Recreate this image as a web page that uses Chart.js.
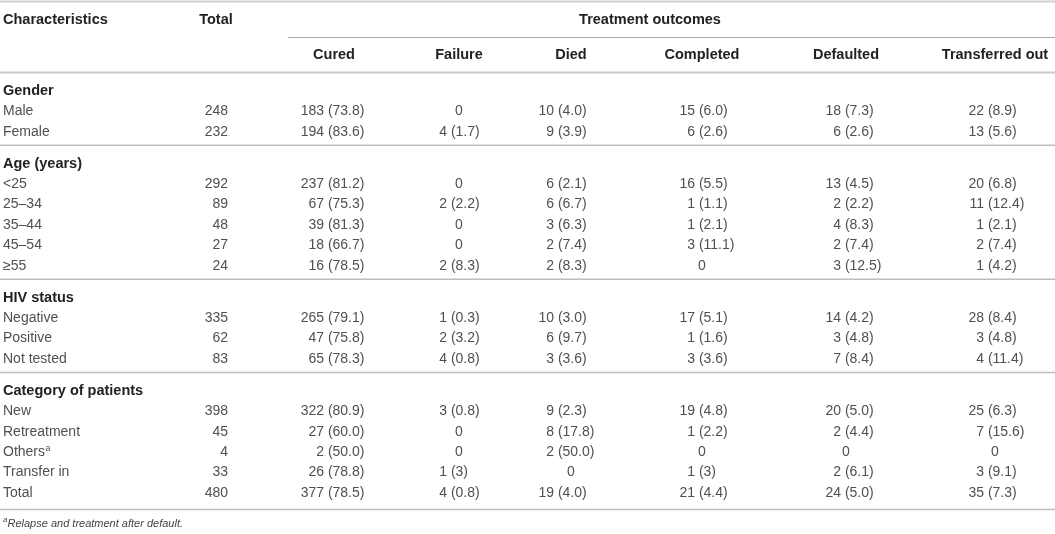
<!DOCTYPE html>
<html>
<head>
<meta charset="utf-8">
<title>Treatment outcomes</title>
<script src="https://cdn.jsdelivr.net/npm/chart.js@4.4.1/dist/chart.umd.min.js"></script>
<style>
    html, body { margin: 0; padding: 0; background: #fff; }
    #wrap { width: 1055px; height: 534px; position: relative; }
</style>
</head>
<body>
<div id="wrap"><canvas id="tabela"></canvas></div>
<script>
// --- dados da tabela ---
const groupNames = ['Gender', 'Age (years)', 'HIV status', 'Category of patients'];
const rowLabels = ['Male', 'Female', '<25', '25–34', '35–44', '45–54', '≥55',
    'Negative', 'Positive', 'Not tested', 'New', 'Retreatment', 'Others', 'Transfer in', 'Total'];
const rowGroup = [0, 0, 1, 1, 1, 1, 1, 2, 2, 2, 3, 3, 3, 3, 3];
const rowNote = [null, null, null, null, null, null, null, null, null, null, null, null, 'a', null, null];

const outcomeNames = ['Cured', 'Failure', 'Died', 'Completed', 'Defaulted', 'Transferred out'];

const totalCounts = [248, 232, 292, 89, 48, 27, 24, 335, 62, 83, 398, 45, 4, 33, 480];
const curedCounts = [183, 194, 237, 67, 39, 18, 16, 265, 47, 65, 322, 27, 2, 26, 377];
const curedPct = ['73.8', '83.6', '81.2', '75.3', '81.3', '66.7', '78.5', '79.1', '75.8', '78.3', '80.9', '60.0', '50.0', '78.8', '78.5'];
const failureCounts = [0, 4, 0, 2, 0, 0, 2, 1, 2, 4, 3, 0, 0, 1, 4];
const failurePct = [null, '1.7', null, '2.2', null, null, '8.3', '0.3', '3.2', '0.8', '0.8', null, null, '3', '0.8'];
const diedCounts = [10, 9, 6, 6, 3, 2, 2, 10, 6, 3, 9, 8, 2, 0, 19];
const diedPct = ['4.0', '3.9', '2.1', '6.7', '6.3', '7.4', '8.3', '3.0', '9.7', '3.6', '2.3', '17.8', '50.0', null, '4.0'];
const completedCounts = [15, 6, 16, 1, 1, 3, 0, 17, 1, 3, 19, 1, 0, 1, 21];
const completedPct = ['6.0', '2.6', '5.5', '1.1', '2.1', '11.1', null, '5.1', '1.6', '3.6', '4.8', '2.2', null, '3', '4.4'];
const defaultedCounts = [18, 6, 13, 2, 4, 2, 3, 14, 3, 7, 20, 2, 0, 2, 24];
const defaultedPct = ['7.3', '2.6', '4.5', '2.2', '8.3', '7.4', '12.5', '4.2', '4.8', '8.4', '5.0', '4.4', null, '6.1', '5.0'];
const transferredCounts = [22, 13, 20, 11, 1, 2, 1, 28, 3, 4, 25, 7, 0, 3, 35];
const transferredPct = ['8.9', '5.6', '6.8', '12.4', '2.1', '7.4', '4.2', '8.4', '4.8', '11.4', '6.3', '15.6', null, '9.1', '7.3'];

const footnote = 'Relapse and treatment after default.';

// --- layout (unidades das escalas) ---
const colCenter = [334, 459, 571, 702, 846, 995];
const colAnchor = [324, 447, 554, 695, 841, 984];
const totalRight = 228;
const firstGroupY = 91;
const rowPitch = 20.4;
const groupGap = 32;

const FONT = '"Liberation Sans", Arial, Helvetica, sans-serif';

function montarLinhas() {
    // calcula a posição vertical de cada cabeçalho de grupo e de cada linha
    const groupY = [];
    const rowY = [];
    const sepY = [];
    let y = firstGroupY;
    rowGroup.forEach((g, i) => {
        if (i === 0 || rowGroup[i - 1] !== g) {
            if (i > 0) {
                sepY.push(rowY[i - 1] + 13.5);
                y = rowY[i - 1] + groupGap;
            }
            groupY[g] = y;
        }
        y += rowPitch;
        rowY.push(y);
    });
    sepY.push(rowY[rowY.length - 1] + 16.5);
    return { groupY, rowY, sepY };
}

const tabelaPlugin = {
    id: 'tabela',
    afterDraw(chart) {
        const ctx = chart.ctx;
        const sx = chart.scales.x;
        const sy = chart.scales.y;
        const px = v => sx.getPixelForValue(v);
        const py = v => sy.getPixelForValue(v);
        const { groupY, rowY, sepY } = montarLinhas();

        const linha = (x0, x1, y, w, cor) => {
            ctx.save();
            ctx.strokeStyle = cor;
            ctx.lineWidth = w;
            ctx.beginPath();
            ctx.moveTo(px(x0), py(y));
            ctx.lineTo(px(x1), py(y));
            ctx.stroke();
            ctx.restore();
        };

        // linhas horizontais
        linha(0, 1055, 1.5, 2, '#cfcfcf');
        linha(288, 1055, 37.5, 1, '#a6a6a6');
        linha(0, 1055, 72.5, 2, '#c8c8c8');
        sepY.forEach(y => linha(0, 1055, y, 1.6, '#bdbdbd'));

        ctx.save();
        ctx.textBaseline = 'middle';

        // cabeçalhos
        ctx.fillStyle = '#222';
        ctx.font = 'bold 14.5px ' + FONT;
        ctx.textAlign = 'left';
        ctx.fillText('Characteristics', px(3), py(20));
        ctx.textAlign = 'center';
        ctx.fillText('Total', px(216), py(20));
        ctx.fillText('Treatment outcomes', px(650), py(20));
        outcomeNames.forEach((n, j) => ctx.fillText(n, px(colCenter[j]), py(55)));

        // títulos dos grupos
        ctx.textAlign = 'left';
        groupNames.forEach((g, k) => ctx.fillText(g, px(3), py(groupY[k])));

        // linhas de dados
        const series = [
            [curedCounts, curedPct], [failureCounts, failurePct], [diedCounts, diedPct],
            [completedCounts, completedPct], [defaultedCounts, defaultedPct], [transferredCounts, transferredPct]
        ];
        ctx.fillStyle = '#505050';
        rowLabels.forEach((lab, i) => {
            const y = py(rowY[i]);
            ctx.font = '14px ' + FONT;
            ctx.textAlign = 'left';
            ctx.fillText(lab, px(3), y);
            if (rowNote[i]) {
                const w = ctx.measureText(lab).width;
                ctx.font = '9px ' + FONT;
                ctx.fillText(rowNote[i], px(3) + w + 0.5, y - 4);
                ctx.font = '14px ' + FONT;
            }
            ctx.textAlign = 'right';
            ctx.fillText(String(totalCounts[i]), px(totalRight), y);

            series.forEach(([counts, pct], j) => {
                if (pct[i] === null) {
                    ctx.textAlign = 'center';
                    ctx.fillText(String(counts[i]), px(colCenter[j]), y);
                } else {
                    ctx.textAlign = 'right';
                    ctx.fillText(String(counts[i]), px(colAnchor[j]), y);
                    ctx.textAlign = 'left';
                    ctx.fillText(' (' + pct[i] + ')', px(colAnchor[j]), y);
                }
            });
        });

        // nota de rodapé
        ctx.fillStyle = '#444';
        ctx.textAlign = 'left';
        ctx.font = 'italic 8px ' + FONT;
        ctx.fillText('a', px(3), py(520));
        ctx.font = 'italic 11px ' + FONT;
        ctx.fillText(footnote, px(7.5), py(524));
        ctx.restore();
    }
};

document.addEventListener('DOMContentLoaded', () => {
    const ctx = document.getElementById('tabela').getContext('2d');
    new Chart(ctx, {
        type: 'scatter',
        data: { datasets: [] },
        options: {
            responsive: true,
            maintainAspectRatio: false,
            animation: false,
            layout: { padding: 0 },
            plugins: { legend: { display: false }, tooltip: { enabled: false } },
            scales: {
                x: { type: 'linear', min: 0, max: 1055, display: false },
                y: { type: 'linear', min: 0, max: 534, reverse: true, display: false }
            }
        },
        plugins: [tabelaPlugin]
    });
});
</script>
</body>
</html>
